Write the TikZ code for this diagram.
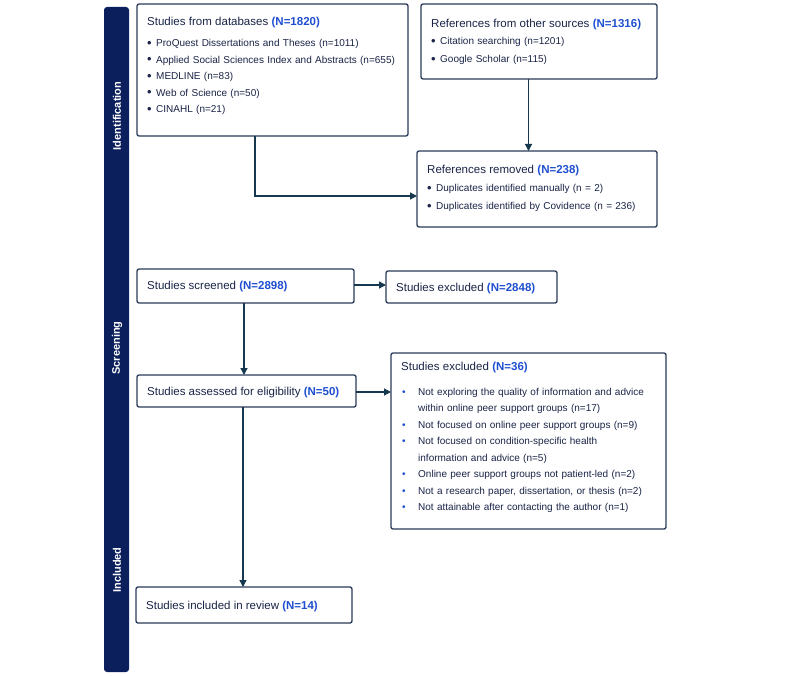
\documentclass[tikz,border=0pt]{standalone}
\usepackage{fontspec}
\setmainfont{Liberation Sans}
\usetikzlibrary{arrows.meta,calc}

\definecolor{barblue}{HTML}{0B1F5C}
\definecolor{edgec}{HTML}{2B3A58}
\definecolor{arrowc}{HTML}{16394F}
\definecolor{txtc}{HTML}{1A2447}
\definecolor{nblue}{HTML}{1F4FD1}

% heading line and bullet lines inside the boxes
\newcommand{\hd}[2]{{\fontsize{11.5}{14}\selectfont #1 \textcolor{nblue}{\bfseries #2}\par}}
\newcommand{\bdot}{\raisebox{-0.9pt}{\fontsize{13}{13}\selectfont\textbullet}}
\newcommand{\bitem}[2][9pt]{\hangindent=#1\hangafter=1\noindent\makebox[#1][l]{\bdot}#2\par}
\newcommand{\bitemb}[1]{\hangindent=17pt\hangafter=1\noindent\makebox[17pt][l]{\hspace{1pt}\textcolor{nblue}{\textbullet}}#1\par}

\tikzset{
  box/.style={draw=edgec, line width=1.3pt, rounded corners=2pt, fill=white,
    inner sep=0pt, outer sep=0pt, anchor=north west},
  txt/.style={text=txtc, inner sep=0pt, anchor=base west, align=left,
    font=\fontsize{10}{16.5}\selectfont},
  stage/.style={text=white, rotate=90, font=\fontsize{11}{13}\selectfont\bfseries},
  flow/.style={draw=arrowc, line width=1.3pt, -{Triangle[length=7pt,width=7pt]}}
}

\begin{document}
\begin{tikzpicture}[x=1pt,y=-1pt]
  \useasboundingbox (0,0) rectangle (800,676);

  % Stage bar on the left
  \fill[barblue, rounded corners=3pt] (104,7) rectangle (129,672);
  \node[stage] (sid) at (117,116) {Identification};
  \node[stage] (ssc) at (117,348) {Screening};
  \node[stage] (sin) at (117,570) {Included};

  % Identification
  \node[box, minimum width=271, minimum height=132] (db) at (137,4) {};
  \node[txt, text width=255] (dbt) at (147,25.7) {%
    \hd{Studies from databases}{(N=1820)}\vspace{4.4pt}
    \bitem{ProQuest Dissertations and Theses (n=1011)}
    \bitem{Applied Social Sciences Index and Abstracts (n=655)}
    \bitem{MEDLINE (n=83)}
    \bitem{Web of Science (n=50)}
    \bitem{CINAHL (n=21)}};

  \node[box, minimum width=236, minimum height=75] (oth) at (421,4) {};
  \node[txt, text width=220, font=\fontsize{10}{17.5}\selectfont] (otht) at (431,27.3) {%
    \hd{References from other sources}{(N=1316)}
    \bitem{Citation searching (n=1201)}
    \bitem{Google Scholar (n=115)}};

  \node[box, minimum width=240, minimum height=76] (rem) at (417,151) {};
  \node[txt, text width=225, font=\fontsize{10}{18}\selectfont] (remt) at (427,174) {%
    \hd{References removed}{(N=238)}
    \bitem{Duplicates identified manually (n = 2)}
    \bitem{Duplicates identified by Covidence (n = 236)}};

  % Screening
  \node[box, minimum width=217, minimum height=34] (scr) at (137,269) {};
  \node[txt] (scrt) at (147,289.5) {\hd{Studies screened}{(N=2898)}};

  \node[box, minimum width=171, minimum height=32] (ex1) at (386,271) {};
  \node[txt] (ex1t) at (396,291.7) {\hd{Studies excluded}{(N=2848)}};

  \node[box, minimum width=219, minimum height=32] (elg) at (137,375) {};
  \node[txt] (elgt) at (147,395) {\hd{Studies assessed for eligibility}{(N=50)}};

  \node[box, minimum width=275, minimum height=176] (ex2) at (391,353) {};
  \node[txt, text width=262, font=\fontsize{10}{16.5}\selectfont] (ex2t) at (401,370.7) {%
    \hd{Studies excluded}{(N=36)}\vspace{7.8pt}
    \bitemb{Not exploring the quality of information and advice\newline within online peer support groups (n=17)}
    \bitemb{Not focused on online peer support groups (n=9)}
    \bitemb{Not focused on condition-specific health\newline information and advice (n=5)}
    \bitemb{Online peer support groups not patient-led (n=2)}
    \bitemb{Not a research paper, dissertation, or thesis (n=2)}
    \bitemb{Not attainable after contacting the author (n=1)}};

  % Included
  \node[box, minimum width=216, minimum height=36] (inc) at (136,587) {};
  \node[txt] (inct) at (146,609.3) {\hd{Studies included in review}{(N=14)}};

  % Connectors
  \draw[flow] ([xshift=118pt]db.south west) |- ([yshift=-7pt]rem.west);
  \draw[flow] ([xshift=-10.5pt]oth.south) -- ([xshift=-10.5pt]oth.south |- rem.north);
  \draw[flow] ([yshift=1pt]scr.east) -- ([yshift=1pt]scr.east -| ex1.west);
  \draw[flow] ([xshift=-1.5pt]scr.south) -- ([xshift=-1.5pt]scr.south |- elg.north);
  \draw[flow] ([yshift=-1pt]elg.east) -- ([yshift=-1pt]elg.east -| ex2.west);
  \draw[flow] ([xshift=-3.5pt]elg.south) -- ([xshift=-3.5pt]elg.south |- inc.north);
\end{tikzpicture}
\end{document}
